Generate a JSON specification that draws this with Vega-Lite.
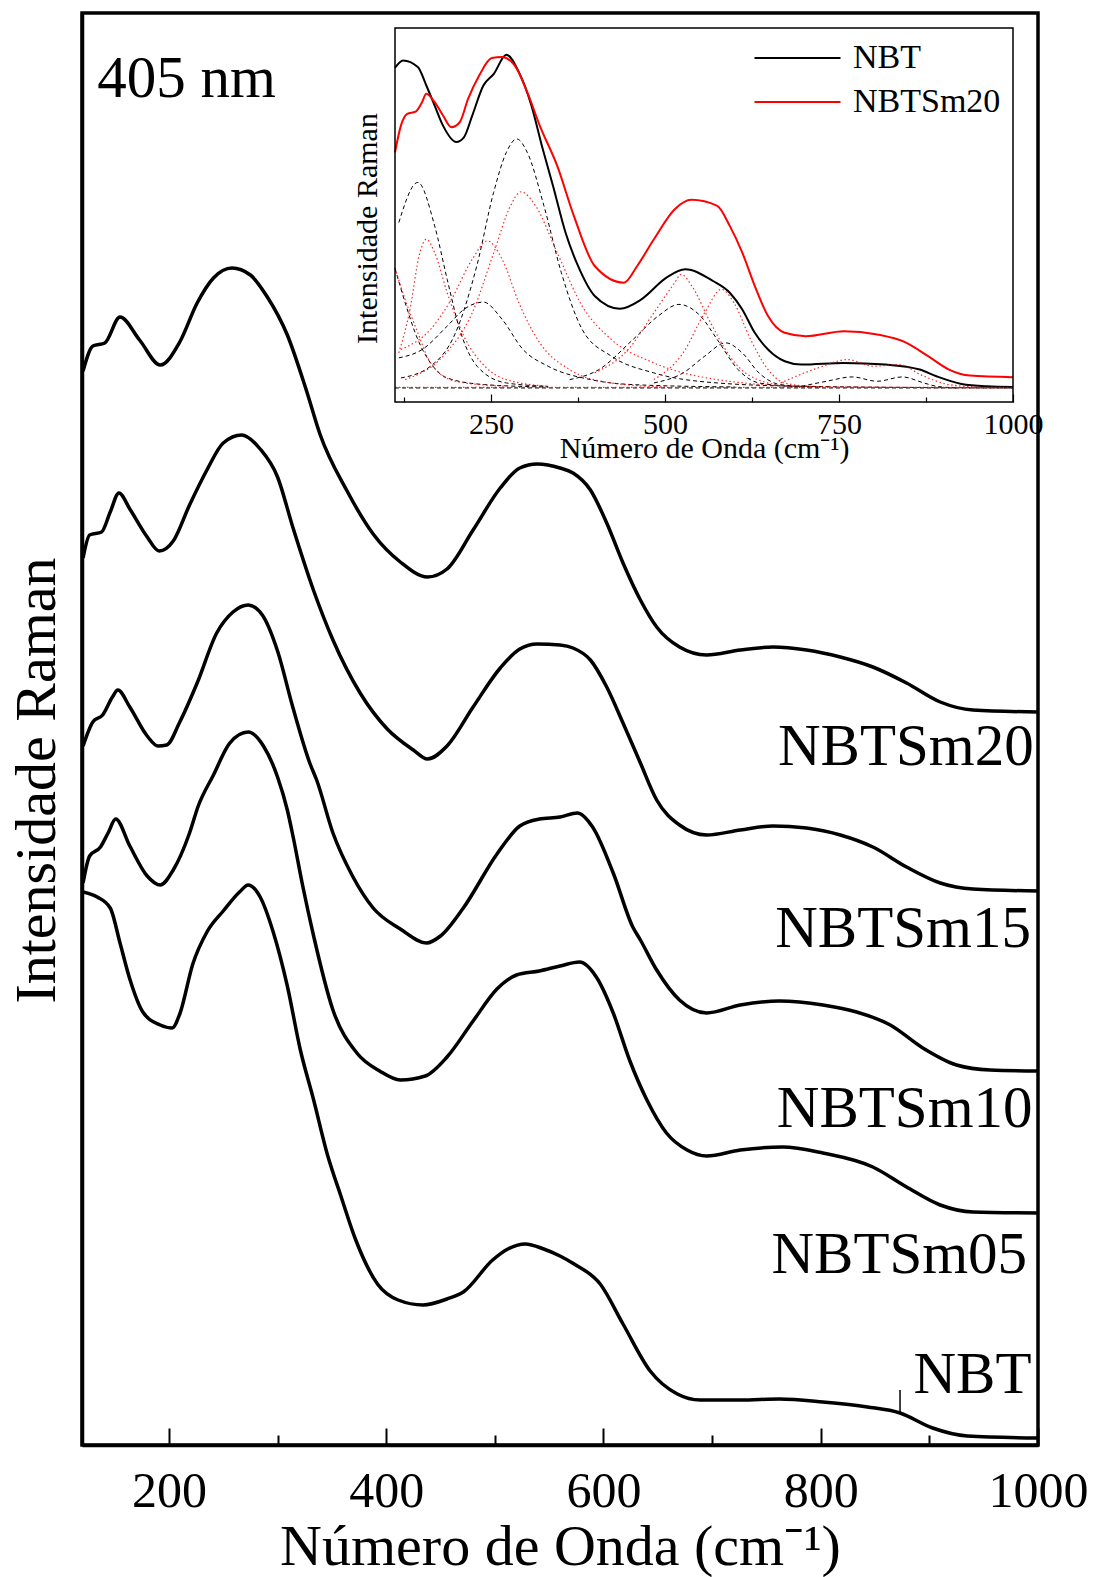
{
"$schema":"https://vega.github.io/schema/vega-lite/v6.json",
"width":956,"height":1432,
"autosize":{"type":"none"},
"padding":{"left":82,"top":13,"right":56,"bottom":132},
"background":"white",
"config":{"view":{"stroke":"black","strokeWidth":3.5},"font":"Liberation Serif","axis":{"grid":false}},
"datasets":{
"main":[
{"s":"NBTSm20","w":121,"I":1074},{"s":"NBTSm20","w":130,"I":1099},{"s":"NBTSm20","w":141,"I":1102},{"s":"NBTSm20","w":155,"I":1128},{"s":"NBTSm20","w":173,"I":1105},{"s":"NBTSm20","w":192,"I":1080},{"s":"NBTSm20","w":210,"I":1103},{"s":"NBTSm20","w":226,"I":1142},{"s":"NBTSm20","w":241,"I":1167},{"s":"NBTSm20","w":258,"I":1177},{"s":"NBTSm20","w":275,"I":1170},{"s":"NBTSm20","w":290,"I":1149},{"s":"NBTSm20","w":309,"I":1110},{"s":"NBTSm20","w":327,"I":1053},{"s":"NBTSm20","w":339,"I":1011},{"s":"NBTSm20","w":364,"I":954},{"s":"NBTSm20","w":388,"I":911},{"s":"NBTSm20","w":413,"I":883},{"s":"NBTSm20","w":438,"I":868},{"s":"NBTSm20","w":456,"I":876},{"s":"NBTSm20","w":480,"I":915},{"s":"NBTSm20","w":505,"I":957},{"s":"NBTSm20","w":523,"I":977},{"s":"NBTSm20","w":539,"I":981},{"s":"NBTSm20","w":560,"I":977},{"s":"NBTSm20","w":572,"I":972},{"s":"NBTSm20","w":588,"I":955},{"s":"NBTSm20","w":603,"I":922},{"s":"NBTSm20","w":618,"I":882},{"s":"NBTSm20","w":634,"I":845},{"s":"NBTSm20","w":649,"I":818},{"s":"NBTSm20","w":670,"I":798},{"s":"NBTSm20","w":695,"I":790},{"s":"NBTSm20","w":726,"I":795},{"s":"NBTSm20","w":756,"I":798},{"s":"NBTSm20","w":787,"I":795},{"s":"NBTSm20","w":818,"I":788},{"s":"NBTSm20","w":848,"I":778},{"s":"NBTSm20","w":879,"I":762},{"s":"NBTSm20","w":910,"I":743},{"s":"NBTSm20","w":940,"I":735},{"s":"NBTSm20","w":1000,"I":733},
{"s":"NBTSm15","w":121,"I":887},{"s":"NBTSm15","w":127,"I":910},{"s":"NBTSm15","w":138,"I":913},{"s":"NBTSm15","w":146,"I":933},{"s":"NBTSm15","w":154,"I":952},{"s":"NBTSm15","w":164,"I":936},{"s":"NBTSm15","w":180,"I":908},{"s":"NBTSm15","w":191,"I":894},{"s":"NBTSm15","w":204,"I":904},{"s":"NBTSm15","w":219,"I":940},{"s":"NBTSm15","w":235,"I":975},{"s":"NBTSm15","w":250,"I":1002},{"s":"NBTSm15","w":267,"I":1010},{"s":"NBTSm15","w":284,"I":996},{"s":"NBTSm15","w":300,"I":968},{"s":"NBTSm15","w":314,"I":918},{"s":"NBTSm15","w":333,"I":855},{"s":"NBTSm15","w":351,"I":805},{"s":"NBTSm15","w":376,"I":752},{"s":"NBTSm15","w":401,"I":716},{"s":"NBTSm15","w":425,"I":695},{"s":"NBTSm15","w":438,"I":686},{"s":"NBTSm15","w":456,"I":699},{"s":"NBTSm15","w":480,"I":738},{"s":"NBTSm15","w":505,"I":777},{"s":"NBTSm15","w":523,"I":796},{"s":"NBTSm15","w":539,"I":801},{"s":"NBTSm15","w":560,"I":800},{"s":"NBTSm15","w":572,"I":797},{"s":"NBTSm15","w":588,"I":785},{"s":"NBTSm15","w":603,"I":758},{"s":"NBTSm15","w":618,"I":722},{"s":"NBTSm15","w":634,"I":682},{"s":"NBTSm15","w":649,"I":645},{"s":"NBTSm15","w":670,"I":620},{"s":"NBTSm15","w":695,"I":610},{"s":"NBTSm15","w":726,"I":615},{"s":"NBTSm15","w":756,"I":619},{"s":"NBTSm15","w":787,"I":617},{"s":"NBTSm15","w":818,"I":610},{"s":"NBTSm15","w":848,"I":598},{"s":"NBTSm15","w":879,"I":578},{"s":"NBTSm15","w":910,"I":562},{"s":"NBTSm15","w":940,"I":556},{"s":"NBTSm15","w":1000,"I":554},
{"s":"NBTSm10","w":121,"I":699},{"s":"NBTSm10","w":130,"I":723},{"s":"NBTSm10","w":139,"I":730},{"s":"NBTSm10","w":148,"I":748},{"s":"NBTSm10","w":153,"I":755},{"s":"NBTSm10","w":164,"I":738},{"s":"NBTSm10","w":180,"I":709},{"s":"NBTSm10","w":190,"I":699},{"s":"NBTSm10","w":198,"I":700},{"s":"NBTSm10","w":210,"I":723},{"s":"NBTSm10","w":226,"I":762},{"s":"NBTSm10","w":244,"I":812},{"s":"NBTSm10","w":259,"I":833},{"s":"NBTSm10","w":273,"I":840},{"s":"NBTSm10","w":286,"I":830},{"s":"NBTSm10","w":300,"I":794},{"s":"NBTSm10","w":314,"I":738},{"s":"NBTSm10","w":330,"I":681},{"s":"NBTSm10","w":336,"I":665},{"s":"NBTSm10","w":351,"I":612},{"s":"NBTSm10","w":369,"I":569},{"s":"NBTSm10","w":388,"I":537},{"s":"NBTSm10","w":413,"I":516},{"s":"NBTSm10","w":437,"I":502},{"s":"NBTSm10","w":450,"I":509},{"s":"NBTSm10","w":471,"I":537},{"s":"NBTSm10","w":502,"I":591},{"s":"NBTSm10","w":523,"I":619},{"s":"NBTSm10","w":541,"I":626},{"s":"NBTSm10","w":560,"I":628},{"s":"NBTSm10","w":576,"I":632},{"s":"NBTSm10","w":590,"I":618},{"s":"NBTSm10","w":609,"I":572},{"s":"NBTSm10","w":627,"I":518},{"s":"NBTSm10","w":634,"I":505},{"s":"NBTSm10","w":649,"I":475},{"s":"NBTSm10","w":670,"I":445},{"s":"NBTSm10","w":695,"I":432},{"s":"NBTSm10","w":726,"I":440},{"s":"NBTSm10","w":762,"I":444},{"s":"NBTSm10","w":802,"I":440},{"s":"NBTSm10","w":833,"I":433},{"s":"NBTSm10","w":864,"I":420},{"s":"NBTSm10","w":894,"I":397},{"s":"NBTSm10","w":925,"I":380},{"s":"NBTSm10","w":956,"I":375},{"s":"NBTSm10","w":1000,"I":374},
{"s":"NBTSm05","w":121,"I":562},{"s":"NBTSm05","w":127,"I":589},{"s":"NBTSm05","w":137,"I":598},{"s":"NBTSm05","w":144,"I":612},{"s":"NBTSm05","w":151,"I":626},{"s":"NBTSm05","w":164,"I":599},{"s":"NBTSm05","w":180,"I":569},{"s":"NBTSm05","w":192,"I":560},{"s":"NBTSm05","w":204,"I":575},{"s":"NBTSm05","w":219,"I":612},{"s":"NBTSm05","w":227,"I":639},{"s":"NBTSm05","w":241,"I":670},{"s":"NBTSm05","w":256,"I":702},{"s":"NBTSm05","w":273,"I":713},{"s":"NBTSm05","w":287,"I":699},{"s":"NBTSm05","w":300,"I":668},{"s":"NBTSm05","w":309,"I":635},{"s":"NBTSm05","w":314,"I":610},{"s":"NBTSm05","w":323,"I":560},{"s":"NBTSm05","w":333,"I":510},{"s":"NBTSm05","w":351,"I":435},{"s":"NBTSm05","w":373,"I":392},{"s":"NBTSm05","w":394,"I":374},{"s":"NBTSm05","w":413,"I":365},{"s":"NBTSm05","w":436,"I":369},{"s":"NBTSm05","w":456,"I":388},{"s":"NBTSm05","w":480,"I":424},{"s":"NBTSm05","w":502,"I":456},{"s":"NBTSm05","w":520,"I":470},{"s":"NBTSm05","w":541,"I":474},{"s":"NBTSm05","w":560,"I":479},{"s":"NBTSm05","w":578,"I":483},{"s":"NBTSm05","w":594,"I":467},{"s":"NBTSm05","w":609,"I":432},{"s":"NBTSm05","w":624,"I":385},{"s":"NBTSm05","w":640,"I":345},{"s":"NBTSm05","w":658,"I":312},{"s":"NBTSm05","w":677,"I":295},{"s":"NBTSm05","w":695,"I":289},{"s":"NBTSm05","w":726,"I":295},{"s":"NBTSm05","w":765,"I":298},{"s":"NBTSm05","w":802,"I":292},{"s":"NBTSm05","w":848,"I":278},{"s":"NBTSm05","w":879,"I":258},{"s":"NBTSm05","w":910,"I":240},{"s":"NBTSm05","w":940,"I":233},{"s":"NBTSm05","w":1000,"I":232},
{"s":"NBT","w":121,"I":553},{"s":"NBT","w":134,"I":548},{"s":"NBT","w":146,"I":537},{"s":"NBT","w":155,"I":502},{"s":"NBT","w":164,"I":466},{"s":"NBT","w":176,"I":433},{"s":"NBT","w":192,"I":420},{"s":"NBT","w":203,"I":417},{"s":"NBT","w":210,"I":431},{"s":"NBT","w":222,"I":481},{"s":"NBT","w":235,"I":513},{"s":"NBT","w":250,"I":534},{"s":"NBT","w":265,"I":553},{"s":"NBT","w":273,"I":560},{"s":"NBT","w":284,"I":548},{"s":"NBT","w":296,"I":513},{"s":"NBT","w":309,"I":459},{"s":"NBT","w":321,"I":395},{"s":"NBT","w":333,"I":346},{"s":"NBT","w":346,"I":290},{"s":"NBT","w":358,"I":250},{"s":"NBT","w":372,"I":205},{"s":"NBT","w":392,"I":161},{"s":"NBT","w":411,"I":145},{"s":"NBT","w":434,"I":140},{"s":"NBT","w":456,"I":146},{"s":"NBT","w":471,"I":153},{"s":"NBT","w":498,"I":185},{"s":"NBT","w":512,"I":196},{"s":"NBT","w":528,"I":201},{"s":"NBT","w":545,"I":196},{"s":"NBT","w":560,"I":189},{"s":"NBT","w":573,"I":181},{"s":"NBT","w":597,"I":161},{"s":"NBT","w":618,"I":121},{"s":"NBT","w":643,"I":74},{"s":"NBT","w":668,"I":51},{"s":"NBT","w":689,"I":45},{"s":"NBT","w":726,"I":45},{"s":"NBT","w":762,"I":46},{"s":"NBT","w":802,"I":43},{"s":"NBT","w":843,"I":38},{"s":"NBT","w":873,"I":32},{"s":"NBT","w":903,"I":17},{"s":"NBT","w":935,"I":9},{"s":"NBT","w":1000,"I":7}
],
"labels":[
{"t":"NBTSm20","w":996,"I":680},{"t":"NBTSm15","w":993.5,"I":498},{"t":"NBTSm10","w":995,"I":318},{"t":"NBTSm05","w":990,"I":172},{"t":"NBT","w":994,"I":52}
],
"inset":[
{"s":"NBT","w":112,"I":1000},{"s":"NBT","w":123.6,"I":1022},{"s":"NBT","w":144.8,"I":1002},{"s":"NBT","w":157,"I":947},{"s":"NBT","w":169,"I":887},{"s":"NBT","w":181,"I":827},{"s":"NBT","w":200,"I":778},{"s":"NBT","w":211,"I":792},{"s":"NBT","w":223,"I":857},{"s":"NBT","w":239,"I":947},{"s":"NBT","w":254,"I":982},{"s":"NBT","w":272,"I":1039},{"s":"NBT","w":290,"I":987},{"s":"NBT","w":308,"I":887},{"s":"NBT","w":323,"I":767},{"s":"NBT","w":339,"I":647},{"s":"NBT","w":357,"I":507},{"s":"NBT","w":375,"I":407},{"s":"NBT","w":399,"I":317},{"s":"NBT","w":435,"I":279},{"s":"NBT","w":466,"I":307},{"s":"NBT","w":502,"I":372},{"s":"NBT","w":529,"I":397},{"s":"NBT","w":569,"I":362},{"s":"NBT","w":593,"I":327},{"s":"NBT","w":611,"I":277},{"s":"NBT","w":629,"I":207},{"s":"NBT","w":648,"I":157},{"s":"NBT","w":672,"I":122},{"s":"NBT","w":696,"I":112},{"s":"NBT","w":757,"I":117},{"s":"NBT","w":817,"I":112},{"s":"NBT","w":866,"I":97},{"s":"NBT","w":890,"I":77},{"s":"NBT","w":926,"I":54},{"s":"NBT","w":962,"I":47},{"s":"NBT","w":1000,"I":45},
{"s":"NBTSm20","w":112,"I":747},{"s":"NBTSm20","w":120.5,"I":827},{"s":"NBTSm20","w":129.6,"I":862},{"s":"NBTSm20","w":141.7,"I":869},{"s":"NBTSm20","w":150.8,"I":897},{"s":"NBTSm20","w":157,"I":922},{"s":"NBTSm20","w":169,"I":897},{"s":"NBTSm20","w":181,"I":857},{"s":"NBTSm20","w":193,"I":822},{"s":"NBTSm20","w":205,"I":837},{"s":"NBTSm20","w":217,"I":907},{"s":"NBTSm20","w":233,"I":977},{"s":"NBTSm20","w":251,"I":1029},{"s":"NBTSm20","w":266,"I":1032},{"s":"NBTSm20","w":284,"I":1007},{"s":"NBTSm20","w":302,"I":927},{"s":"NBTSm20","w":320,"I":827},{"s":"NBTSm20","w":345,"I":707},{"s":"NBTSm20","w":369,"I":557},{"s":"NBTSm20","w":399,"I":407},{"s":"NBTSm20","w":441,"I":357},{"s":"NBTSm20","w":460,"I":407},{"s":"NBTSm20","w":484,"I":487},{"s":"NBTSm20","w":514,"I":577},{"s":"NBTSm20","w":538,"I":605},{"s":"NBTSm20","w":575,"I":587},{"s":"NBTSm20","w":593,"I":527},{"s":"NBTSm20","w":611,"I":447},{"s":"NBTSm20","w":629,"I":347},{"s":"NBTSm20","w":648,"I":257},{"s":"NBTSm20","w":672,"I":207},{"s":"NBTSm20","w":702,"I":197},{"s":"NBTSm20","w":757,"I":212},{"s":"NBTSm20","w":805,"I":202},{"s":"NBTSm20","w":847,"I":177},{"s":"NBTSm20","w":878,"I":137},{"s":"NBTSm20","w":908,"I":97},{"s":"NBTSm20","w":938,"I":79},{"s":"NBTSm20","w":1000,"I":74}
],
"compb":[
{"c":"D0","w":112,"I":42},{"c":"D0","w":1000,"I":42},
{"c":"D1","w":117.5,"I":537},{"c":"D1","w":144.8,"I":657},{"c":"D1","w":169,"I":527},{"c":"D1","w":187,"I":367},{"c":"D1","w":205,"I":217},{"c":"D1","w":230,"I":107},{"c":"D1","w":272,"I":57},{"c":"D1","w":332,"I":47},
{"c":"D2","w":120.5,"I":72},{"c":"D2","w":163,"I":107},{"c":"D2","w":199,"I":207},{"c":"D2","w":229.5,"I":407},{"c":"D2","w":253.7,"I":627},{"c":"D2","w":272,"I":747},{"c":"D2","w":287,"I":787},{"c":"D2","w":302,"I":747},{"c":"D2","w":326,"I":587},{"c":"D2","w":351,"I":387},{"c":"D2","w":381,"I":217},{"c":"D2","w":423,"I":137},{"c":"D2","w":484,"I":87},{"c":"D2","w":575,"I":57},{"c":"D2","w":696,"I":47},{"c":"D2","w":1000,"I":42},
{"c":"D3","w":117.5,"I":132},{"c":"D3","w":151,"I":157},{"c":"D3","w":187,"I":227},{"c":"D3","w":211,"I":277},{"c":"D3","w":239,"I":299},{"c":"D3","w":266,"I":247},{"c":"D3","w":296,"I":157},{"c":"D3","w":332,"I":107},{"c":"D3","w":393,"I":67},{"c":"D3","w":454,"I":52},{"c":"D3","w":600,"I":45},
{"c":"D4","w":112,"I":400},{"c":"D4","w":126.6,"I":297},{"c":"D4","w":144.8,"I":187},{"c":"D4","w":163,"I":117},{"c":"D4","w":187,"I":72},{"c":"D4","w":241,"I":52},{"c":"D4","w":332,"I":45},
{"c":"D5","w":363,"I":67},{"c":"D5","w":405,"I":97},{"c":"D5","w":454,"I":187},{"c":"D5","w":490,"I":257},{"c":"D5","w":520,"I":292},{"c":"D5","w":551,"I":257},{"c":"D5","w":575,"I":187},{"c":"D5","w":605,"I":97},{"c":"D5","w":635,"I":57},{"c":"D5","w":700,"I":45},
{"c":"D6","w":484,"I":57},{"c":"D6","w":526,"I":87},{"c":"D6","w":557,"I":137},{"c":"D6","w":587,"I":177},{"c":"D6","w":611,"I":147},{"c":"D6","w":635,"I":87},{"c":"D6","w":666,"I":52},{"c":"D6","w":720,"I":45},
{"c":"D7","w":696,"I":47},{"c":"D7","w":732,"I":62},{"c":"D7","w":769,"I":75},{"c":"D7","w":805,"I":62},{"c":"D7","w":841,"I":75},{"c":"D7","w":872,"I":57},{"c":"D7","w":890,"I":47},{"c":"D7","w":920,"I":42}
],
"compr":[
{"c":"R0","w":112,"I":44},{"c":"R0","w":1000,"I":44},
{"c":"Ra","w":112,"I":400},{"c":"Ra","w":126.6,"I":307},{"c":"Ra","w":144.8,"I":207},{"c":"Ra","w":163,"I":117},{"c":"Ra","w":199,"I":62},{"c":"Ra","w":272,"I":47},
{"c":"Rb","w":117.5,"I":147},{"c":"Rb","w":132.6,"I":267},{"c":"Rb","w":147.8,"I":447},{"c":"Rb","w":157,"I":487},{"c":"Rb","w":169,"I":447},{"c":"Rb","w":187,"I":327},{"c":"Rb","w":211,"I":197},{"c":"Rb","w":241,"I":107},{"c":"Rb","w":272,"I":67},{"c":"Rb","w":332,"I":47},
{"c":"Rc","w":120.5,"I":157},{"c":"Rc","w":163,"I":217},{"c":"Rc","w":193,"I":307},{"c":"Rc","w":223,"I":427},{"c":"Rc","w":244.7,"I":482},{"c":"Rc","w":266,"I":427},{"c":"Rc","w":290,"I":297},{"c":"Rc","w":320,"I":177},{"c":"Rc","w":363,"I":97},{"c":"Rc","w":423,"I":57},{"c":"Rc","w":500,"I":45},
{"c":"Rd","w":126.6,"I":67},{"c":"Rd","w":181,"I":137},{"c":"Rd","w":223,"I":267},{"c":"Rd","w":254,"I":447},{"c":"Rd","w":278,"I":587},{"c":"Rd","w":293,"I":629},{"c":"Rd","w":314,"I":587},{"c":"Rd","w":345,"I":447},{"c":"Rd","w":381,"I":287},{"c":"Rd","w":423,"I":187},{"c":"Rd","w":484,"I":117},{"c":"Rd","w":575,"I":67},{"c":"Rd","w":700,"I":47},{"c":"Rd","w":1000,"I":42},
{"c":"Re","w":399,"I":87},{"c":"Re","w":447,"I":157},{"c":"Re","w":484,"I":267},{"c":"Re","w":514,"I":357},{"c":"Re","w":523,"I":382},{"c":"Re","w":538.5,"I":347},{"c":"Re","w":563,"I":247},{"c":"Re","w":593,"I":137},{"c":"Re","w":623,"I":77},{"c":"Re","w":680,"I":45},
{"c":"Rf","w":484,"I":67},{"c":"Rf","w":526,"I":147},{"c":"Rf","w":557,"I":267},{"c":"Rf","w":581,"I":337},{"c":"Rf","w":599,"I":297},{"c":"Rf","w":623,"I":187},{"c":"Rf","w":648,"I":97},{"c":"Rf","w":672,"I":57},{"c":"Rf","w":720,"I":45},
{"c":"Rg","w":666,"I":57},{"c":"Rg","w":720,"I":102},{"c":"Rg","w":763,"I":127},{"c":"Rg","w":799,"I":107},{"c":"Rg","w":835,"I":112},{"c":"Rg","w":872,"I":77},{"c":"Rg","w":908,"I":52},{"c":"Rg","w":950,"I":45}
]
},
"layer":[
{"layer":[
{"data":{"name":"main"},
"mark":{"type":"line","color":"black","strokeWidth":3.5,"interpolate":"monotone"},
"encoding":{
"x":{"field":"w","type":"quantitative","scale":{"domain":[120,1000],"nice":false,"zero":false},
"axis":{"orient":"bottom","title":"Número de Onda (cm⁻¹)","values":[200,300,400,500,600,700,800,900,1000],"format":"d",
"labelExpr":"datum.value % 200 === 0 ? datum.label : ''",
"tickSize":{"condition":{"test":"datum.value % 200 === 0","value":-17},"value":-10},
"tickWidth":2,"tickColor":"black","domainColor":"black","domainWidth":3.5,
"labelFont":"Liberation Serif","labelFontSize":50,"labelColor":"black","labelPadding":38,"labelFlush":false,"labelOverlap":false,
"titleFont":"Liberation Serif","titleFontSize":58,"titleFontWeight":"normal","titleColor":"black","titlePadding":-5}},
"y":{"field":"I","type":"quantitative","scale":{"domain":[0,1432],"nice":false,"zero":false},
"axis":{"orient":"left","title":"Intensidade Raman","ticks":false,"labels":false,"domainColor":"black","domainWidth":3.5,
"titleFont":"Liberation Serif","titleFontSize":58,"titleFontWeight":"normal","titleColor":"black","titlePadding":16,"titleY":767}},
"detail":{"field":"s"}}},
{"data":{"name":"labels"},
"mark":{"type":"text","align":"right","baseline":"alphabetic","font":"Liberation Serif","fontSize":59,"color":"black"},
"encoding":{"x":{"field":"w","type":"quantitative"},"y":{"field":"I","type":"quantitative"},"text":{"field":"t"}}},
{"data":{"values":[{"t":"405 nm","w":134,"I":1348}]},
"mark":{"type":"text","align":"left","baseline":"alphabetic","font":"Liberation Serif","fontSize":59,"color":"black"},
"encoding":{"x":{"field":"w","type":"quantitative"},"y":{"field":"I","type":"quantitative"},"text":{"field":"t"}}},
{"data":{"values":[{"w":873,"I":33,"I2":55}]},
"mark":{"type":"rule","color":"black","strokeWidth":1.5},
"encoding":{"x":{"field":"w","type":"quantitative"},"y":{"field":"I","type":"quantitative"},"y2":{"field":"I2"}}}
]},
{"layer":[
{"data":{"name":"inset"},
"mark":{"type":"line","strokeWidth":2,"interpolate":"monotone"},
"encoding":{
"x":{"field":"w","type":"quantitative","scale":{"domain":[112,1000],"range":[313,931],"nice":false,"zero":false},
"axis":{"orient":"bottom","offset":-1043,"title":"Número de Onda (cm⁻¹)","values":[125,250,375,500,625,750,875,1000],"format":"d",
"labelExpr":"datum.value % 250 === 0 ? datum.label : ''",
"tickSize":{"condition":{"test":"datum.value % 250 === 0","value":-8},"value":-5},
"tickWidth":1.2,"tickColor":"black","domain":false,
"labelFont":"Liberation Serif","labelFontSize":30,"labelColor":"black","labelPadding":15,"labelFlush":false,"labelOverlap":false,
"titleFont":"Liberation Serif","titleFontSize":30,"titleFontWeight":"normal","titleColor":"black","titlePadding":-9}},
"y":{"field":"I","type":"quantitative","scale":{"domain":[0,1119],"range":[389,15],"nice":false,"zero":false},
"axis":{"orient":"left","offset":-313,"title":"Intensidade Raman","ticks":false,"labels":false,"domain":false,
"titleFont":"Liberation Serif","titleFontSize":30,"titleFontWeight":"normal","titleColor":"black","titlePadding":13,"titleY":215}},
"color":{"field":"s","type":"nominal","scale":{"domain":["NBT","NBTSm20"],"range":["black","#ff0000"]},
"legend":{"orient":"none","legendX":671,"legendY":27,"title":null,"symbolType":"stroke","symbolSize":7400,"symbolStrokeWidth":2,"clipHeight":36,
"labelFont":"Liberation Serif","labelFontSize":34,"labelColor":"black","labelOffset":11,"rowPadding":8}}}},
{"data":{"name":"compb"},
"mark":{"type":"line","color":"black","strokeWidth":1,"strokeDash":[4,3],"interpolate":"monotone"},
"encoding":{"x":{"field":"w","type":"quantitative"},"y":{"field":"I","type":"quantitative"},"detail":{"field":"c"}}},
{"data":{"name":"compr"},
"mark":{"type":"line","color":"#ff0000","opacity":0.85,"strokeWidth":1.2,"strokeDash":[1.5,2.5],"interpolate":"monotone"},
"encoding":{"x":{"field":"w","type":"quantitative"},"y":{"field":"I","type":"quantitative"},"detail":{"field":"c"}}},
{"data":{"values":[{"w":112,"w2":1000,"I":0,"I2":1119}]},
"mark":{"type":"rect","filled":false,"stroke":"black","strokeWidth":1.5},
"encoding":{"x":{"field":"w","type":"quantitative"},"x2":{"field":"w2"},"y":{"field":"I","type":"quantitative"},"y2":{"field":"I2"}}}
]}
],
"resolve":{"scale":{"x":"independent","y":"independent"}}
}
